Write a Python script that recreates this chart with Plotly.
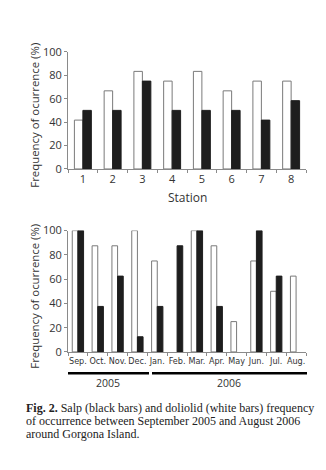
import plotly.graph_objects as go

W, H = 326, 470

stations = ["1", "2", "3", "4", "5", "6", "7", "8"]
doliolid_station = [41.7, 66.7, 83.3, 75, 83.3, 66.7, 75, 75]
salp_station = [50, 50, 75, 50, 50, 50, 41.7, 58.3]

months = ["Sep.", "Oct.", "Nov.", "Dec.", "Jan.", "Feb.", "Mar.", "Apr.", "May", "Jun.", "Jul.", "Aug."]
doliolid_month = [100, 87.5, 87.5, 100, 75, None, 100, 87.5, 25, 75, 50, 62.5]
salp_month = [100, 37.5, 62.5, 12.5, 37.5, 87.5, 100, 37.5, None, 100, 62.5, None]

years = ["2005", "2006"]
y_ticks = [0, 20, 40, 60, 80, 100]

caption_lines = ["<b>Fig. 2.</b> Salp (black bars) and doliolid (white bars) frequency",
                 "of occurrence between September 2005 and August 2006",
                 "around Gorgona Island."]

def px(x):
    return x / W

def py(y):
    return 1 - y / H

SANS = "Open Sans, DejaVu Sans, sans-serif"
NARROW = "DejaVu Sans Condensed, Liberation Sans Narrow, Open Sans, sans-serif"
SERIF = "Liberation Serif, Times New Roman, serif"
AX = "#8a8a8a"
TXT = "#333333"

fig = go.Figure()

white = dict(color="white", line=dict(color="#7a7a7a", width=1))
black = dict(color="#1e1e1e", line=dict(color="#1e1e1e", width=1))

fig.add_trace(go.Bar(x=stations, y=doliolid_station, marker=white, xaxis="x", yaxis="y"))
fig.add_trace(go.Bar(x=stations, y=salp_station, marker=black, xaxis="x", yaxis="y"))
fig.add_trace(go.Bar(x=months, y=doliolid_month, marker=white, xaxis="x2", yaxis="y2"))
fig.add_trace(go.Bar(x=months, y=salp_month, marker=black, xaxis="x2", yaxis="y2"))

xcommon = dict(showline=True, linecolor=AX, linewidth=1, ticks="outside", tickcolor=AX,
               ticklen=3, tickson="boundaries", showgrid=False, zeroline=False,
               tickangle=0, domain=[px(60), px(298)])
ycommon = dict(showline=True, linecolor=AX, linewidth=1, ticks="outside", tickcolor=AX,
               ticklen=3, showgrid=False, zeroline=False, range=[0, 100],
               tickvals=y_ticks, tickfont=dict(family=SANS, size=11, color=TXT))

fig.update_layout(
    width=W, height=H, margin=dict(l=0, r=0, t=0, b=0),
    paper_bgcolor="white", plot_bgcolor="white",
    showlegend=False, barmode="group", bargap=0.43, bargroupgap=0,
    xaxis=dict(**xcommon, anchor="y", range=[-0.5, 7.5],
               tickfont=dict(family=SANS, size=11, color=TXT)),
    yaxis=dict(**ycommon, anchor="x", domain=[py(158), py(37)]),
    xaxis2=dict(**xcommon, anchor="y2", range=[-0.5, 11.5],
                tickfont=dict(family=NARROW, size=9, color=TXT)),
    yaxis2=dict(**ycommon, anchor="x2", domain=[py(347), py(221.7)]),
)

ann = []
ann.append(dict(x=px(179), y=py(187), text="Station", showarrow=False,
                font=dict(family=SANS, size=12, color=TXT), xanchor="center", yanchor="middle"))
for yc in (103, 290):
    ann.append(dict(x=px(27), y=py(yc), text="Frequency of ocurrence (%)", textangle=-90,
                    showarrow=False, font=dict(family=SANS, size=11.4, color=TXT),
                    xanchor="center", yanchor="middle"))
for name, xc in zip(years, [100, 221]):
    ann.append(dict(x=px(xc), y=py(379), text=name, showarrow=False,
                    font=dict(family=SANS, size=10.5, color=TXT), xanchor="center", yanchor="middle"))
for line, yc in zip(caption_lines, [405, 418.5, 432]):
    ann.append(dict(x=px(16), y=py(yc), text=line, showarrow=False, align="left",
                    font=dict(family=SERIF, size=12, color="#222"), xanchor="left", yanchor="middle"))
fig.update_layout(annotations=[dict(a, xref="paper", yref="paper") for a in ann])

fig.update_layout(shapes=[
    dict(type="line", xref="paper", yref="paper", x0=px(60), x1=px(141), y0=py(369), y1=py(369),
         line=dict(color="black", width=2.5)),
    dict(type="line", xref="paper", yref="paper", x0=px(144), x1=px(299), y0=py(369), y1=py(369),
         line=dict(color="black", width=2.5)),
])

fig.write_html("out.html")
